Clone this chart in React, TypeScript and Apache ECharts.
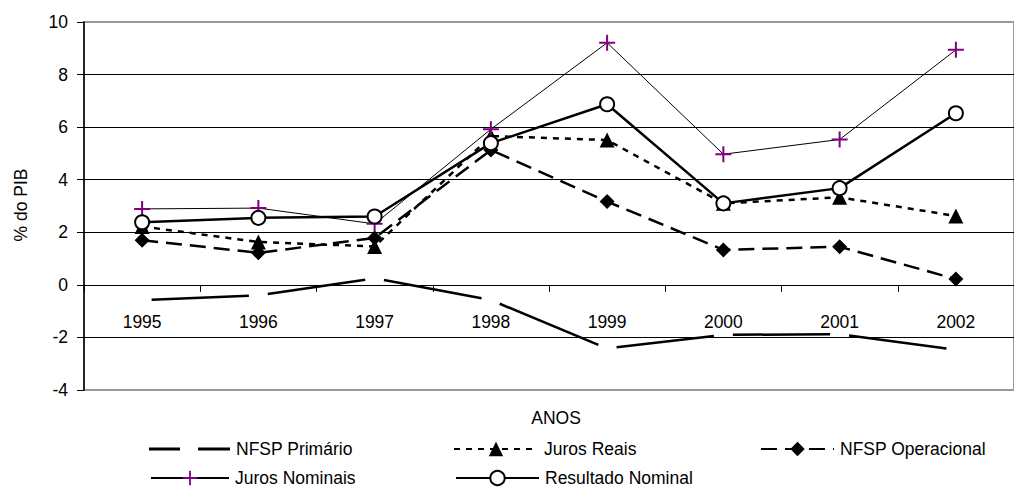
import React, { useEffect, useRef } from "react";
import * as echarts from "echarts";

const years = ["1995", "1996", "1997", "1998", "1999", "2000", "2001", "2002"];
const nfspPrimario = [-0.58, -0.4, 0.25, -0.58, -2.42, -1.9, -1.88, -2.47];
const jurosReais = [2.22, 1.63, 1.46, 5.66, 5.51, 3.1, 3.33, 2.62];
const nfspOperacional = [1.7, 1.22, 1.78, 5.13, 3.17, 1.33, 1.45, 0.22];
const jurosNominais = [2.89, 2.92, 2.32, 5.92, 9.21, 4.97, 5.53, 8.94];
const resultadoNominal = [2.38, 2.55, 2.6, 5.39, 6.87, 3.1, 3.68, 6.53];

const FONT = "'Liberation Sans', Arial, sans-serif";
const FS = 17.5;
const PLUS = "path://M7,0h2v7h7v2h-7v7h-2v-7h-7v-2h7z";
const GAPDASH = "path://M0,0h31v3h-31z M49,0h32v3h-32z";

const Y_MIN = -4;
const Y_MAX = 10;
const GRID_TOP = 22;
const GRID_H = 368;

export default function App() {
  const ref = useRef<HTMLDivElement>(null);
  useEffect(() => {
    if (!ref.current) return;
    const chart = echarts.init(ref.current, null, { renderer: "svg" });
    const textStyle = { fontFamily: FONT, fontSize: FS, color: "#000" };
    const zeroOffset = -(GRID_H * (0 - Y_MIN)) / (Y_MAX - Y_MIN);
    const mkLegend = (name: string, left: number, top: number, w: number, icon?: string) => ({
      data: [icon ? { name, icon } : { name }],
      left,
      top,
      padding: 0,
      itemWidth: w,
      itemHeight: 18,
      itemGap: 0,
      selectedMode: false,
      textStyle: { ...textStyle, padding: [0, 0, 0, 1] },
    });
    const option: any = {
      animation: false,
      backgroundColor: "#fff",
      grid: {
        left: 84,
        top: GRID_TOP,
        width: 944,
        height: GRID_H,
        show: true,
        borderColor: "#999",
        borderWidth: 2,
        backgroundColor: "transparent",
      },
      xAxis: {
        type: "category",
        data: years,
        boundaryGap: true,
        position: "bottom",
        offset: zeroOffset,
        axisLine: { show: true, onZero: false, lineStyle: { color: "#000", width: 1 } },
        axisTick: { show: true, length: 7, inside: false, lineStyle: { color: "#000", width: 1 } },
        axisLabel: { ...textStyle, margin: 28 },
        splitLine: { show: false },
      },
      yAxis: {
        type: "value",
        min: Y_MIN,
        max: Y_MAX,
        interval: 2,
        axisLine: { show: true, onZero: false, lineStyle: { color: "#000", width: 1.5 } },
        axisTick: { show: true, length: 7, lineStyle: { color: "#000", width: 1 } },
        axisLabel: { ...textStyle, margin: 16 },
        splitLine: {
          show: true,
          showMinLine: false,
          showMaxLine: false,
          lineStyle: { color: "#000", width: 1 },
        },
      },
      legend: [
        mkLegend("NFSP Primário", 149, 440, 81, GAPDASH),
        mkLegend("Juros Reais", 453, 440, 84),
        mkLegend("NFSP Operacional", 760, 440, 73),
        mkLegend("Juros Nominais", 150, 469, 78),
        mkLegend("Resultado Nominal", 455, 469, 83),
      ],
      graphic: [
        {
          type: "text",
          x: 21,
          y: 205,
          rotation: Math.PI / 2,
          style: { text: "% do PIB", font: `${FS}px ${FONT}`, fill: "#000", align: "center", verticalAlign: "middle" },
        },
        {
          type: "text",
          x: 556,
          y: 418,
          style: { text: "ANOS", font: `${FS}px ${FONT}`, fill: "#000", align: "center", verticalAlign: "middle" },
        },
      ],
      series: [
        {
          name: "NFSP Primário",
          type: "custom",
          itemStyle: { color: "#000" },
          encode: { x: 0, y: 1 },
          data: nfspPrimario.map((v, i) => [i, v]),
          renderItem: (params: any, api: any) => {
            const i = params.dataIndex;
            if (i >= nfspPrimario.length - 1) return { type: "group", children: [] };
            const p1 = api.coord([i, api.value(1)]);
            const p2 = api.coord([i + 1, nfspPrimario[i + 1]]);
            const dx = p2[0] - p1[0];
            const dy = p2[1] - p1[1];
            const len = Math.sqrt(dx * dx + dy * dy);
            const g = 9.5;
            return {
              type: "line",
              shape: {
                x1: p1[0] + (dx / len) * g,
                y1: p1[1] + (dy / len) * g,
                x2: p2[0] - (dx / len) * g,
                y2: p2[1] - (dy / len) * g,
              },
              style: { stroke: "#000", lineWidth: 2.5 },
            };
          },
        },
        {
          name: "Juros Reais",
          type: "line",
          data: jurosReais,
          symbol: "triangle",
          symbolSize: 15,
          itemStyle: { color: "#000" },
          lineStyle: { color: "#000", width: 2.5, type: [6, 6] },
        },
        {
          name: "NFSP Operacional",
          type: "line",
          data: nfspOperacional,
          symbol: "diamond",
          symbolSize: 15,
          itemStyle: { color: "#000" },
          lineStyle: { color: "#000", width: 2.5, type: [16, 8] },
        },
        {
          name: "Juros Nominais",
          type: "line",
          data: jurosNominais,
          symbol: PLUS,
          symbolSize: 16,
          itemStyle: { color: "#800080" },
          lineStyle: { color: "#000", width: 1 },
        },
        {
          name: "Resultado Nominal",
          type: "line",
          data: resultadoNominal,
          symbol: "circle",
          symbolSize: 14,
          itemStyle: { color: "#fff", borderColor: "#000", borderWidth: 2 },
          lineStyle: { color: "#000", width: 2.5 },
        },
      ],
    };
    chart.setOption(option);
    return () => chart.dispose();
  }, []);
  return (
    <div
      ref={ref}
      style={{ position: "absolute", left: 0, top: 0, width: 1014, height: 490 }}
    />
  );
}
